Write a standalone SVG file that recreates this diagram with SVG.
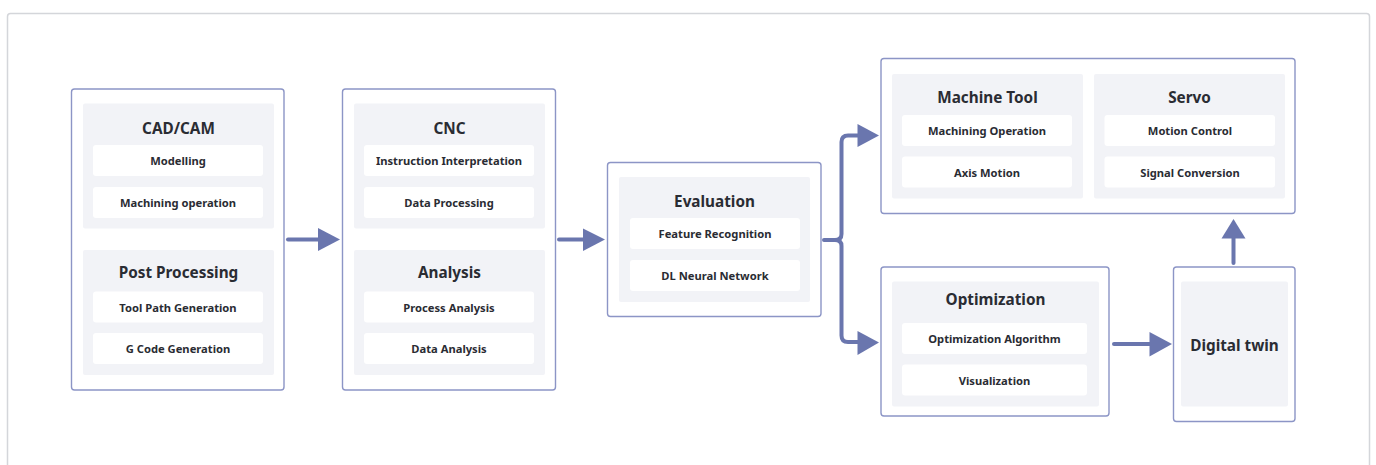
<svg xmlns="http://www.w3.org/2000/svg" width="1376" height="465" viewBox="0 0 1376 465">
<defs>
<style>
.frame{fill:#ffffff;stroke:#d4d6da;stroke-width:1.5}
.box{fill:#ffffff;stroke:#8c95c6;stroke-width:1.4}
.sec{fill:#f2f3f7}
.item{fill:#ffffff}
.t{font-family:"Noto Sans","Liberation Sans",sans-serif;font-weight:700;font-size:15.3px;fill:#2a2c33;text-anchor:middle;dominant-baseline:central}
.i{font-family:"Noto Sans","Liberation Sans",sans-serif;font-weight:700;font-size:11.2px;fill:#2a2c33;text-anchor:middle;dominant-baseline:central}
.ln{fill:none;stroke:#6a76ae;stroke-width:4;stroke-linecap:round;stroke-linejoin:round}
.hd{fill:#6a76ae}
</style>
</defs>
<rect width="1376" height="465" fill="#ffffff"/>
<rect class="frame" x="7.5" y="13.5" width="1362" height="470" rx="3"/>

<g id="node-cadcam-post">
<rect class="box" x="71.5" y="89" width="212.5" height="301" rx="3"/>
<rect class="sec" x="83" y="103.5" width="191" height="125" rx="2"/>
<text class="t" x="178.5" y="128">CAD/CAM</text>
<rect class="item" x="93" y="145" width="170" height="31" rx="3"/>
<text class="i" x="178" y="160.5">Modelling</text>
<rect class="item" x="93" y="187" width="170" height="31" rx="3"/>
<text class="i" x="178" y="202.5">Machining operation</text>
<rect class="sec" x="83" y="250" width="191" height="125" rx="2"/>
<text class="t" x="178.5" y="272">Post Processing</text>
<rect class="item" x="93" y="291.5" width="170" height="31" rx="3"/>
<text class="i" x="178" y="307">Tool Path Generation</text>
<rect class="item" x="93" y="333" width="170" height="31" rx="3"/>
<text class="i" x="178" y="348.5">G Code Generation</text>
</g>

<g id="node-cnc-analysis">
<rect class="box" x="342.5" y="89" width="213" height="301" rx="3"/>
<rect class="sec" x="354" y="103.5" width="191" height="125" rx="2"/>
<text class="t" x="449.5" y="128">CNC</text>
<rect class="item" x="364" y="145" width="170" height="31" rx="3"/>
<text class="i" x="449" y="160.5">Instruction Interpretation</text>
<rect class="item" x="364" y="187" width="170" height="31" rx="3"/>
<text class="i" x="449" y="202.5">Data Processing</text>
<rect class="sec" x="354" y="250" width="191" height="125" rx="2"/>
<text class="t" x="449.5" y="272">Analysis</text>
<rect class="item" x="364" y="291.5" width="170" height="31" rx="3"/>
<text class="i" x="449" y="307">Process Analysis</text>
<rect class="item" x="364" y="333" width="170" height="31" rx="3"/>
<text class="i" x="449" y="348.5">Data Analysis</text>
</g>

<g id="node-evaluation">
<rect class="box" x="607.5" y="162.5" width="213.5" height="154" rx="3"/>
<rect class="sec" x="619" y="177" width="191" height="125" rx="2"/>
<text class="t" x="714.5" y="200.5">Evaluation</text>
<rect class="item" x="630" y="218" width="170" height="31" rx="3"/>
<text class="i" x="715" y="233.5">Feature Recognition</text>
<rect class="item" x="630" y="260" width="170" height="31" rx="3"/>
<text class="i" x="715" y="275.5">DL Neural Network</text>
</g>

<g id="node-machine-servo">
<rect class="box" x="881" y="58.5" width="414" height="155" rx="3"/>
<rect class="sec" x="892" y="74" width="191" height="124.5" rx="2"/>
<text class="t" x="987.5" y="96.5">Machine Tool</text>
<rect class="item" x="902" y="115" width="170" height="31" rx="3"/>
<text class="i" x="987" y="130.5">Machining Operation</text>
<rect class="item" x="902" y="156.5" width="170" height="31" rx="3"/>
<text class="i" x="987" y="172">Axis Motion</text>
<rect class="sec" x="1094" y="74" width="191" height="124.5" rx="2"/>
<text class="t" x="1189.5" y="96.5">Servo</text>
<rect class="item" x="1104.5" y="115" width="170.5" height="31" rx="3"/>
<text class="i" x="1190" y="130.5">Motion Control</text>
<rect class="item" x="1104.5" y="156.5" width="170.5" height="31" rx="3"/>
<text class="i" x="1190" y="172">Signal Conversion</text>
</g>

<g id="node-optimization">
<rect class="box" x="881" y="267" width="228" height="149" rx="3"/>
<rect class="sec" x="892" y="281.5" width="207" height="125" rx="2"/>
<text class="t" x="995.5" y="298.5">Optimization</text>
<rect class="item" x="902" y="323" width="185" height="31" rx="3"/>
<text class="i" x="994.5" y="338.5">Optimization Algorithm</text>
<rect class="item" x="902" y="364.5" width="185" height="31" rx="3"/>
<text class="i" x="994.5" y="380">Visualization</text>
</g>

<g id="node-digital-twin">
<rect class="box" x="1173.5" y="267" width="121.5" height="154.5" rx="3"/>
<rect class="sec" x="1181" y="281.5" width="107" height="125" rx="2"/>
<text class="t" x="1234.5" y="344.5">Digital twin</text>
</g>

<g id="connectors">
<path class="ln" d="M288,239.5 H320"/>
<polygon class="hd" points="318,228 340,239.5 318,251"/>
<path class="ln" d="M559,239.5 H585"/>
<polygon class="hd" points="583,228.5 605,239.5 583,251"/>
<path class="ln" d="M824,240 H835 Q841.5,240 841.5,234 V142 Q841.5,135.5 848,135.5 H860"/>
<polygon class="hd" points="857.5,124 879,135.5 857.5,147"/>
<path class="ln" d="M835,240 Q841.5,240 841.5,246 V335.5 Q841.5,342 848,342 H860"/>
<polygon class="hd" points="857.5,331 879,342.5 857.5,355"/>
<path class="ln" d="M1114,344 H1152"/>
<polygon class="hd" points="1149.5,332 1172,344 1149.5,356.5"/>
<path class="ln" d="M1233.5,263 V236"/>
<polygon class="hd" points="1221.5,238.5 1233.5,219 1245.5,238.5"/>
</g>
</svg>
